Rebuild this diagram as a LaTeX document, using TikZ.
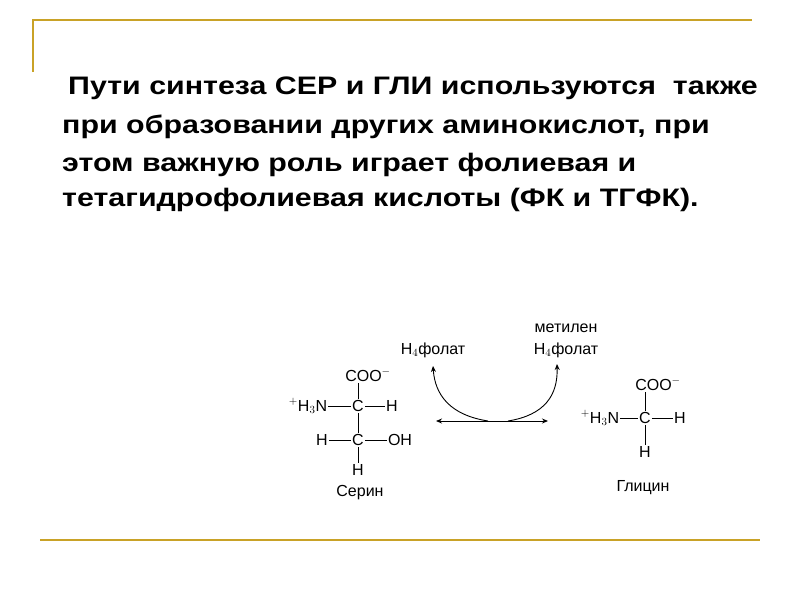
\documentclass[tikz,border=0pt]{standalone}
\usepackage{fontspec}
\setmainfont{Liberation Sans}
\usetikzlibrary{arrows.meta}
\definecolor{gold}{HTML}{C9A227}
\begin{document}
\begin{tikzpicture}[x=1pt,y=-1pt,
  deco/.style={draw=gold,line width=2pt},
  body/.style={anchor=west,inner sep=0,xscale=1.2,transform shape,font=\fontsize{25.3}{28}\selectfont\bfseries},
  atom/.style={inner sep=1pt,font=\fontsize{16}{18}\selectfont},
  bond/.style={line width=0.9pt},
  arr/.style={line width=0.9pt,-{Stealth[length=6pt,width=5pt]}}]
\useasboundingbox (0,0) rectangle (800,600);
\draw[deco] (33,72) -- (33,20) -- (752,20);
\draw[deco] (40,540) -- (760,540);
\node[body] (l1) at (68,88) {Пути синтеза СЕР и ГЛИ используются\ \ также};
\node[body] (l2) at (62,127) {при образовании других аминокислот, при};
\node[body] (l3) at (62,165) {этом важную роль играет фолиевая и};
\node[body] (l4) at (62,200) {тетагидрофолиевая кислоты (ФК и ТГФК).};
% serine
\node[atom] (sc1) at (358,406) {C};
\node[atom] (scoo) at (368,375) {COO$^{-}$};
\node[atom] (sn) at (308,406) {$^{+}$H$_3$N};
\node[atom] (sh1) at (392,406) {H};
\node[atom] (sc2) at (358,440) {C};
\node[atom] (sh2) at (322,440) {H};
\node[atom] (soh) at (400,440) {OH};
\node[atom] (sh3) at (358,470) {H};
\node[atom] (ser) at (360,493) {Серин};
\draw[bond] (sc1) -- (sc1|-scoo.south);
\draw[bond] (sn) -- (sc1);
\draw[bond] (sc1) -- (sh1);
\draw[bond] (sc1) -- (sc2);
\draw[bond] (sh2) -- (sc2);
\draw[bond] (sc2) -- (soh);
\draw[bond] (sc2) -- (sh3);
% glycine
\node[atom] (gc) at (645,418) {C};
\node[atom] (gcoo) at (658,384) {COO$^{-}$};
\node[atom] (gn) at (600,418) {$^{+}$H$_3$N};
\node[atom] (gh1) at (680,418) {H};
\node[atom] (gh2) at (645,452) {H};
\node[atom] (gly) at (643,488) {Глицин};
\draw[bond] (gc) -- (gc|-gcoo.south);
\draw[bond] (gn) -- (gc);
\draw[bond] (gc) -- (gh1);
\draw[bond] (gc) -- (gh2);
% reaction
\node[atom] (f1) at (433,350) {H$_4$фолат};
\node[atom] (m2) at (566,328) {метилен};
\node[atom] (f2) at (566,350) {H$_4$фолат};
\coordinate (al) at (436,421);
\coordinate (ar) at (548,421);
\coordinate (c1) at (488,421);
\coordinate (c2) at (508,421);
\coordinate (t1) at (433,366);
\coordinate (t2) at (557,364);
\draw[bond,{Stealth[length=6pt,width=5pt]}-{Stealth[length=6pt,width=5pt]}] (al) -- (ar);
\draw[arr] (c1) .. controls (450,415) and (435,395) .. (t1);
\draw[arr] (c2) .. controls (545,415) and (558,395) .. (t2);
\end{tikzpicture}
\end{document}
